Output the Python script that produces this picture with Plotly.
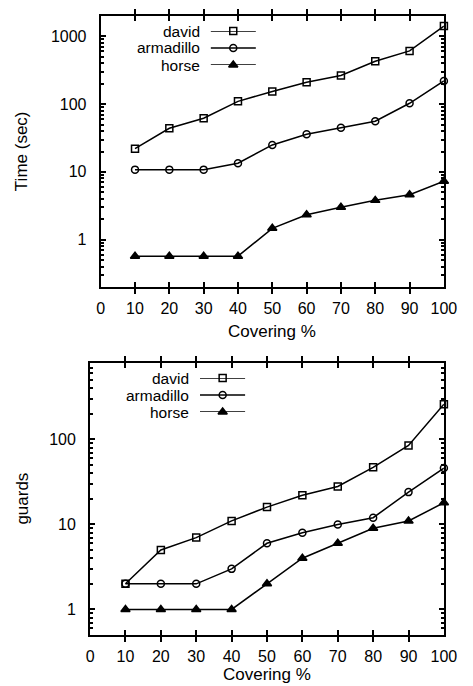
import math
import plotly.graph_objects as go

# covering percentages
covering = [10, 20, 30, 40, 50, 60, 70, 80, 90, 100]
x_ticks = [0, 10, 20, 30, 40, 50, 60, 70, 80, 90, 100]

# time (sec)
time_david = [22, 44, 62, 110, 154, 210, 265, 430, 610, 1420]
time_armadillo = [10.8, 10.8, 10.8, 13.4, 25, 36, 45, 56, 103, 220]
time_horse = [0.57, 0.57, 0.57, 0.57, 1.47, 2.33, 3.0, 3.8, 4.6, 7.3]

# guards
guards_david = [2, 5, 7, 11, 16, 22, 28, 47, 85, 260]
guards_armadillo = [2, 2, 2, 3, 6, 8, 10, 12, 24, 46]
guards_horse = [1, 1, 1, 1, 2, 4, 6, 9, 11, 18]

names = ["david", "armadillo", "horse"]
symbols = ["square-open", "circle-open", "triangle-up"]
sizes = [7, 7, 8]

time_range = [0.2, 2000]
guards_range = [0.5, 800]

W, H = 473, 686
OFF = 8  # page body margin
FONT = "Liberation Sans, Arial, sans-serif"
tickfont = dict(family=FONT, size=16, color="black")
textfont = dict(family=FONT, size=17, color="black")
keyfont = dict(family=FONT, size=15.5, color="black")


def px(x):
    return (x - OFF) / W


def py(y):
    return 1 - (y - OFF) / H


def minor_ticks(lo, hi):
    vals = []
    d = 0.01
    while d < hi * 10:
        for m in range(2, 10):
            v = m * d
            if lo <= v <= hi:
                vals.append(v)
        d *= 10
    return vals


fig = go.Figure()


def add_series(ys, xa, ya):
    for name, y, sym, sz in zip(names, ys, symbols, sizes):
        fig.add_trace(go.Scatter(
            x=covering, y=y, name=name, mode="lines+markers",
            line=dict(color="black", width=1.5),
            marker=dict(symbol=sym, size=sz, color="black",
                        line=dict(color="black", width=1.5)),
            xaxis=xa, yaxis=ya, showlegend=False, cliponaxis=False))


add_series([time_david, time_armadillo, time_horse], "x", "y")
add_series([guards_david, guards_armadillo, guards_horse], "x2", "y2")


# gnuplot-style keys: text on the left, sample on the right
def add_key(xa, ya, text_right, line_l, line_r, row_ys):
    for i, (name, sym, sz) in enumerate(zip(names, symbols, sizes)):
        fig.add_trace(go.Scatter(
            x=[0, 1], y=[i, i], mode="lines",
            line=dict(color="black", width=1.5),
            xaxis=xa, yaxis=ya, showlegend=False, hoverinfo="skip", cliponaxis=False))
        fig.add_trace(go.Scatter(
            x=[0.5], y=[i], mode="markers",
            marker=dict(symbol=sym, size=sz, color="black",
                        line=dict(color="black", width=1.5)),
            xaxis=xa, yaxis=ya, showlegend=False, hoverinfo="skip", cliponaxis=False))
        fig.add_annotation(x=px(text_right), y=py(row_ys[i]), xref="paper", yref="paper",
                           text=name, showarrow=False, xanchor="right", yanchor="middle",
                           font=keyfont, borderpad=0)
    fig.update_layout(**{
        "xaxis" + xa[1:]: dict(domain=[px(line_l), px(line_r)], range=[0, 1], visible=False),
        "yaxis" + ya[1:]: dict(domain=[py(row_ys[-1]), py(row_ys[0])], range=[2, 0],
                               visible=False, anchor=xa),
    })


add_key("x3", "y3", 204, 214, 261, [31, 48, 65])
add_key("x4", "y4", 193, 203, 250, [378, 395, 412])

# overlay axes that only carry the minor log ticks
for ya, xa in [("y5", "x"), ("y6", "x2")]:
    fig.add_trace(go.Scatter(x=[None], y=[None], xaxis=xa, yaxis=ya,
                             showlegend=False, hoverinfo="skip"))

xcommon = dict(range=[0, 100], tickvals=x_ticks, ticks="inside", ticklen=5,
               mirror="allticks", showline=True, linecolor="black", linewidth=2,
               showgrid=False, zeroline=False, tickfont=tickfont, tickcolor="black",
               tickwidth=1.5, ticklabelstandoff=6)
ycommon = dict(type="log", ticks="inside", ticklen=5, mirror="allticks",
               showline=True, linecolor="black", linewidth=2, showgrid=False,
               zeroline=False, tickfont=tickfont, tickcolor="black", tickwidth=1.5,
               ticklabelstandoff=9)
yminor = dict(type="log", ticks="inside", ticklen=3, mirror="allticks",
              showline=False, showgrid=False, zeroline=False, showticklabels=False,
              tickcolor="black", tickwidth=1.5)


def lr(r):
    return [math.log10(r[0]), math.log10(r[1])]


fig.update_layout(
    width=W, height=H,
    margin=dict(l=0, r=0, t=0, b=0),
    paper_bgcolor="white", plot_bgcolor="white",
    font=dict(family=FONT, size=16, color="black"),
    xaxis=dict(xcommon, domain=[px(100), px(456)], anchor="y"),
    yaxis=dict(ycommon, domain=[py(287), py(16)], range=lr(time_range),
               anchor="x", tickvals=[1, 10, 100, 1000]),
    yaxis5=dict(yminor, overlaying="y", anchor="x", range=lr(time_range),
                tickvals=minor_ticks(*time_range)),
    xaxis2=dict(xcommon, domain=[px(89), px(456)], anchor="y2"),
    yaxis2=dict(ycommon, domain=[py(635), py(362.7)], range=lr(guards_range),
                anchor="x2", tickvals=[1, 10, 100]),
    yaxis6=dict(yminor, overlaying="y2", anchor="x2", range=lr(guards_range),
                tickvals=minor_ticks(*guards_range)),
)

# axis titles
for text, x, y, angle in [("Covering %", 278, 332, 0),
                          ("Covering %", 272.5, 674, 0),
                          ("Time (sec)", 18, 151.5, -90),
                          ("guards", 19, 499, -90)]:
    fig.add_annotation(x=px(x), y=py(y), xref="paper", yref="paper", text=text,
                       showarrow=False, xanchor="center", yanchor="middle",
                       textangle=angle, font=textfont, borderpad=0)

fig.write_html("out.html")
